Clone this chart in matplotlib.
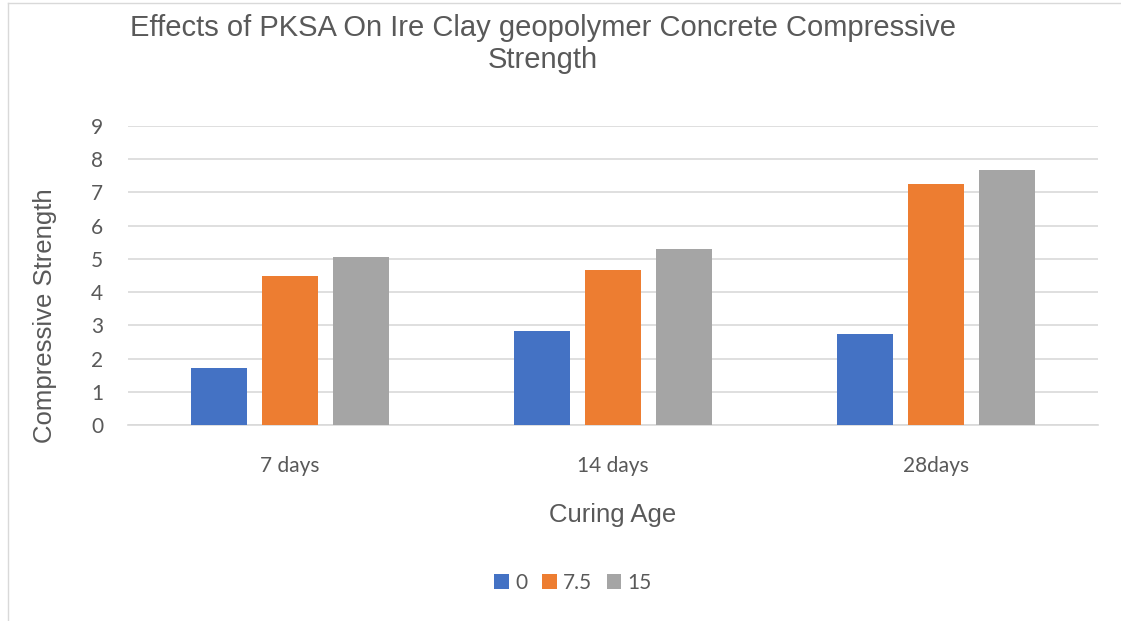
import numpy as np
import matplotlib.pyplot as plt
from matplotlib.lines import Line2D

categories = ['7 days', '14 days', '28days']
series_names = ['0', '7.5', '15']
pksa_0 = [1.72, 2.84, 2.74]
pksa_75 = [4.49, 4.67, 7.26]
pksa_15 = [5.07, 5.29, 7.68]
colors = ['#4472C4', '#ED7D31', '#A5A5A5']

fig = plt.figure(figsize=(11.21, 6.21), dpi=100)
ax = fig.add_axes([128/1121, 196/621, 970/1121, 299/621])

x = np.arange(len(categories))
w = 0.173
step = 0.22
for i, (vals, name) in enumerate(zip([pksa_0, pksa_75, pksa_15], series_names)):
    ax.bar(x + (i - 1)*step, vals, w, color=colors[i], label=name, zorder=3)

ax.set_xlim(-0.5, 2.5)
ax.set_ylim(0, 9)
ax.set_yticks(range(10))
ax.set_xticks(x)
ax.set_xticklabels(categories, family='Lato', fontsize=15, color='#595959')
for t in ax.get_yticklabels():
    t.set_family('Lato')
    t.set_fontsize(15)
    t.set_color('#595959')
ax.tick_params(axis='y', length=0, pad=18)
ax.tick_params(axis='x', length=0, pad=22)
ax.grid(axis='y', color='#d9d9d9', linewidth=1.2, zorder=0)
for s in ['top', 'right', 'left']:
    ax.spines[s].set_visible(False)
ax.spines['bottom'].set_color('#d9d9d9')
ax.spines['bottom'].set_linewidth(1.2)

fig.text(543/1121, 1 - 28/621, 'Effects of PKSA On Ire Clay geopolymer Concrete Compressive',
         ha='center', va='center', family='Liberation Sans', fontsize=21, color='#595959')
fig.text(543/1121, 1 - 60/621, 'Strength',
         ha='center', va='center', family='Liberation Sans', fontsize=21, color='#595959')
fig.text(45/1121, 1 - 316/621, 'Compressive Strength', rotation=90,
         ha='center', va='center', family='Liberation Sans', fontsize=18.5, color='#595959')
fig.text(613/1121, 1 - 515/621, 'Curing Age',
         ha='center', va='center', family='Liberation Sans', fontsize=18.5, color='#595959')

leg = fig.legend(loc='center', bbox_to_anchor=(573/1121, 1 - 583/621), ncol=3,
                 frameon=False, prop={'family': 'Lato', 'size': 15},
                 handlelength=0.7, handleheight=0.7, handletextpad=0.3, columnspacing=0.7)
for t in leg.get_texts():
    t.set_color('#595959')

# light frame around the chart
fig.add_artist(Line2D([8/1121, 8/1121], [0, 1 - 3/621], transform=fig.transFigure, color='#d9d9d9', lw=1))
fig.add_artist(Line2D([8/1121, 1], [1 - 3/621, 1 - 3/621], transform=fig.transFigure, color='#d9d9d9', lw=1))

plt.savefig('out.png', dpi=100)
